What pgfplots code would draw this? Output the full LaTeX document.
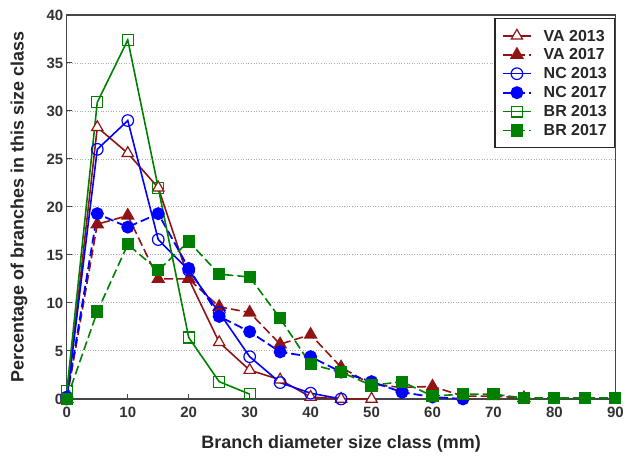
\documentclass[border=0pt]{standalone}
\usepackage{fontspec}
\setmainfont{Liberation Sans}
\usepackage{pgfplots}
\pgfplotsset{compat=1.18}
\definecolor{vared}{RGB}{145,20,20}
\definecolor{ncblue}{RGB}{0,0,255}
\definecolor{brgreen}{RGB}{0,128,0}
\definecolor{axgray}{RGB}{70,70,70}
\begin{document}
\begin{tikzpicture}
\begin{axis}[
  name=main,
  scale only axis, width=550pt, height=385pt,
  xmin=0, xmax=90, ymin=0, ymax=40,
  xtick={0,10,...,90}, ytick={0,5,...,40},
  tick align=inside, xtick pos=bottom, ytick pos=left,
  major tick length=5pt,
  tick style={axgray, line width=1pt},
  ymajorgrids, grid style={gray!65, line width=0.9pt, dash pattern=on 1pt off 1.6pt},
  axis line style={axgray, line width=1.3pt},
  tick label style={font=\bfseries\fontsize{15}{17}\selectfont, text=black!80},
  xticklabel style={yshift=-5pt},
  /pgf/number format/assume math mode=true,
  xlabel={Branch diameter size class (mm)},
  ylabel={Percentage of branches in this size class},
  every axis x label/.style={at={(axis description cs:0.5,0)}, yshift=-45pt, anchor=center, font=\bfseries\fontsize{18}{20}\selectfont, text=black!85},
  every axis y label/.style={at={(axis description cs:0,0.5)}, xshift=-48pt, rotate=90, anchor=center, font=\bfseries\fontsize{18}{20}\selectfont, text=black!85},
  clip=false,
  legend cell align=left,
  legend style={at={(rel axis cs:1,1)}, yshift=-3pt, anchor=north east,
    font=\bfseries\fontsize{16}{17}\selectfont, draw=black!85, line width=1.3pt,
    inner xsep=7pt, inner ysep=10pt, row sep=4.5pt,
    /tikz/column 1/.style={column sep=11pt},
    nodes={inner sep=1pt, text height=11.5pt, text depth=1pt, text=black!85}},
  legend image code/.code={\draw[mark repeat=2,mark phase=2] plot coordinates {(0pt,0pt)(14pt,0pt)(28pt,0pt)};},
]
\addplot[vared, line width=1.6pt, mark=triangle*, mark size=6.5pt, mark options={solid, fill=white, line width=1.2pt}]
  coordinates {(0,0) (5,28.3) (10,25.6) (15,22) (20,12.5) (25,5.9) (30,3.0) (35,2.0) (40,0.2) (45,0) (50,0)};
\addlegendentry{VA 2013}
\addplot[vared, line width=1.6pt, dash pattern=on 9pt off 4pt, mark=triangle*, mark size=6.5pt, mark options={solid, fill=vared}]
  coordinates {(0,0) (5,18.2) (10,19.1) (15,12.5) (20,12.5) (25,9.6) (30,9.0) (35,5.7) (40,6.7) (45,3.3) (50,1.5) (55,1.2) (60,1.3) (65,0.3) (70,0.3) (75,0.1)};
\addlegendentry{VA 2017}
\addplot[ncblue, line width=1.6pt, mark=o, mark size=5.8pt, mark options={solid, fill=white, line width=1.2pt}]
  coordinates {(0,0) (5,26) (10,29) (15,16.6) (20,13.4) (25,9.0) (30,4.4) (35,1.7) (40,0.6) (45,0)};
\addlegendentry{NC 2013}
\addplot[ncblue, line width=1.8pt, dash pattern=on 9pt off 4pt, mark=*, mark size=5.6pt, mark options={solid, fill=ncblue}]
  coordinates {(0,0.2) (5,19.3) (10,17.9) (15,19.3) (20,13.6) (25,8.6) (30,7.0) (35,4.9) (40,4.4) (45,2.8) (50,1.8) (55,0.7) (60,0.2) (65,0)};
\addlegendentry{NC 2017}
\addplot[brgreen, line width=1.6pt, mark=square, mark size=5.5pt, mark options={solid, fill=white, line width=1.2pt}]
  coordinates {(0,0.8) (5,30.9) (10,37.4) (15,22) (20,6.4) (25,1.8) (30,0.5)};
\addlegendentry{BR 2013}
\addplot[brgreen, line width=1.6pt, dash pattern=on 9pt off 4pt, mark=square*, mark size=5.3pt, mark options={solid, fill=brgreen}]
  coordinates {(0,0) (5,9.1) (10,16.1) (15,13.4) (20,16.4) (25,13.0) (30,12.7) (35,8.4) (40,3.6) (45,2.8) (50,1.4) (55,1.8) (60,0.3) (65,0.5) (70,0.5) (75,0.1) (80,0.1) (85,0.1) (90,0.1)};
\addlegendentry{BR 2017}
\end{axis}
\path[use as bounding box] ([shift={(-67pt,-60pt)}]main.south west) rectangle ([shift={(10pt,15pt)}]main.north east);
\end{tikzpicture}
\end{document}
